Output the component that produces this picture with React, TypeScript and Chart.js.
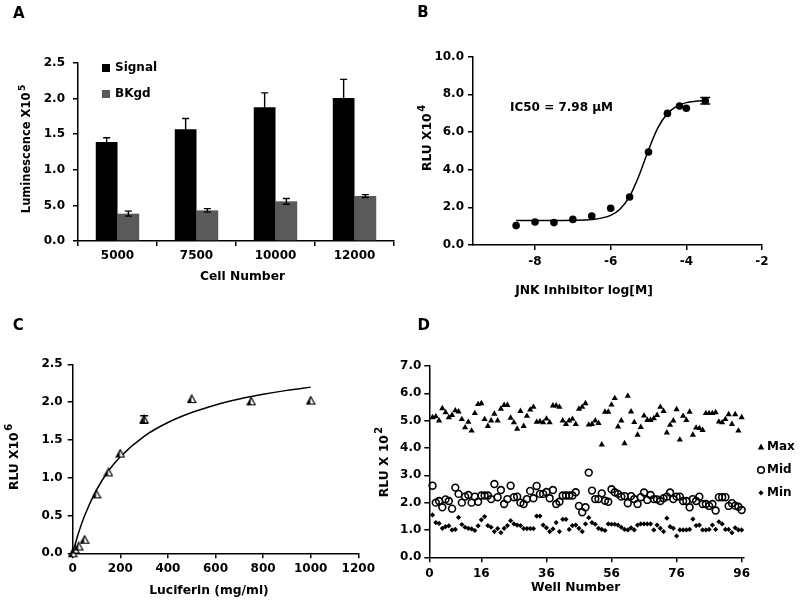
import React, { useEffect, useRef } from 'react';
import { Chart, registerables } from 'chart.js';
Chart.register(...registerables);

const FONT = 'DejaVu Sans';

// ---------- Panel A ----------
const A_CATEGORIES = ['5000', '7500', '10000', '12000'];
const A_SIGNAL = [1.39, 1.57, 1.88, 2.01];
const A_SIGNAL_ERR = [0.06, 0.15, 0.2, 0.26];
const A_BKGD = [0.384, 0.43, 0.557, 0.632];
const A_BKGD_ERR = [0.035, 0.025, 0.04, 0.02];
const A_Y_TICK_LABELS = ['0.0', '5.0', '1.0', '1.5', '2.0', '2.5'];

// ---------- Panel B ----------
const B_X = [-8.5, -8, -7.5, -7, -6.5, -6, -5.5, -5, -4.5, -4.18, -4, -3.5];
const B_Y = [1.03, 1.22, 1.19, 1.36, 1.54, 1.95, 2.55, 4.94, 6.99, 7.38, 7.26, 7.66];
const B_ERR = [0, 0, 0, 0, 0, 0, 0, 0, 0, 0, 0, 0.17];
const B_FIT_X = [-8.5, -8, -7.5, -7, -6.5, -6, -5.75, -5.5, -5.25, -5, -4.75, -4.5, -4.25, -4, -3.75, -3.5];
const B_FIT_Y = [1.3, 1.3, 1.3, 1.31, 1.35, 1.57, 1.91, 2.58, 3.69, 5.05, 6.23, 6.98, 7.38, 7.56, 7.63, 7.67];
const B_X_TICKS = [-8, -6, -4, -2];

// ---------- Panel C ----------
const C_X = [0, 10, 25, 50, 100, 150, 200, 300, 500, 750, 1000];
const C_Y = [0.0, 0.05, 0.09, 0.18, 0.78, 1.07, 1.32, 1.77, 2.04, 2.01, 2.02];
const C_ERR = [0, 0, 0, 0, 0, 0, 0, 0.05, 0, 0, 0];
const C_FIT_X = [0, 25, 50, 100, 150, 200, 300, 400, 500, 600, 700, 800, 900, 1000];
const C_FIT_Y = [0, 0.275, 0.497, 0.838, 1.088, 1.277, 1.548, 1.73, 1.862, 1.962, 2.04, 2.103, 2.155, 2.198];

// ---------- Panel D ----------
const D_MAX = [
  5.12, 5.15, 5.0, 5.45, 5.3, 5.12, 5.2, 5.37, 5.33, 5.05,
  4.75, 4.95, 4.63, 5.27, 5.6, 5.63, 5.05, 4.8, 5.0, 5.25,
  5.0, 5.43, 5.57, 5.57, 5.1, 4.93, 4.7, 5.35, 4.8, 5.17,
  5.4, 5.5, 4.95, 4.97, 4.93, 5.07, 4.93, 5.55, 5.55, 5.5,
  5.0, 4.87, 5.0, 5.06, 4.87, 5.43, 5.5, 5.63, 4.85, 4.87,
  5.0, 4.91, 4.12, 5.32, 5.32, 5.58, 5.82, 4.78, 5.0, 4.17,
  5.9, 5.33, 4.94, 4.48, 4.76, 5.18, 5.02, 5.02, 5.08, 5.2,
  5.5, 5.35, 4.56, 4.84, 5.0, 5.41, 4.3, 5.17, 5.02, 5.32,
  4.48, 4.74, 4.72, 4.65, 5.27, 5.27, 5.27, 5.3, 4.96, 4.93,
  5.05, 5.23, 4.87, 5.23, 4.63, 5.12,
];
const D_MID = [
  2.62, 2.0, 2.06, 1.83, 2.12, 2.06, 1.78, 2.55, 2.32, 2.0,
  2.22, 2.28, 2.0, 2.22, 2.03, 2.26, 2.26, 2.26, 2.13, 2.68,
  2.2, 2.46, 1.95, 2.13, 2.62, 2.2, 2.22, 2.0, 1.95, 2.13,
  2.43, 2.16, 2.61, 2.32, 2.32, 2.39, 2.16, 2.46, 1.95, 2.03,
  2.26, 2.26, 2.26, 2.26, 2.38, 1.88, 1.65, 1.83, 3.1, 2.44,
  2.13, 2.13, 2.34, 2.07, 2.03, 2.49, 2.38, 2.32, 2.22, 2.24,
  1.98, 2.24, 2.13, 1.95, 2.2, 2.37, 2.1, 2.28, 2.13, 2.12,
  2.06, 2.16, 2.22, 2.37, 2.13, 2.22, 2.22, 2.06, 2.06, 1.83,
  2.13, 2.06, 2.22, 1.95, 1.95, 1.88, 1.95, 1.71, 2.2, 2.2,
  2.2, 1.88, 1.98, 1.89, 1.85, 1.73,
];
const D_MIN = [
  1.55, 1.27, 1.24, 1.06, 1.12, 1.15, 1.0, 1.02, 1.46, 1.2,
  1.1, 1.06, 1.04, 0.98, 1.15, 1.37, 1.49, 1.16, 1.1, 0.94,
  1.05, 0.9, 1.06, 1.16, 1.34, 1.22, 1.18, 1.16, 1.05, 1.05,
  1.05, 1.05, 1.51, 1.51, 1.18, 1.08, 0.94, 1.04, 1.27, 0.94,
  1.39, 1.39, 1.02, 1.16, 1.18, 1.06, 0.94, 1.22, 1.45, 1.27,
  1.21, 1.06, 1.02, 0.98, 1.22, 1.21, 1.21, 1.18, 1.1, 1.02,
  1.0, 1.08, 1.0, 1.18, 1.22, 1.22, 1.22, 1.22, 1.0, 1.18,
  1.06, 0.94, 1.43, 1.12, 1.06, 0.78, 1.0, 1.0, 1.0, 1.02,
  1.4, 1.16, 1.18, 1.0, 1.0, 1.02, 1.18, 1.02, 1.3, 1.22,
  1.02, 1.02, 0.9, 1.08, 1.0, 1.0,
];
const D_WELLS = D_MAX.map((_, i) => i + 1);
const D_X_TICKS = [0, 16, 36, 56, 76, 96];
const D_LEGEND = ['Max', 'Mid', 'Min'];

// ---------- layout helpers ----------
const W = 800;
const H = 602;
const YW = 40;
const XH = 30;

type Area = { l: number; r: number; t: number; b: number };
type TextItem = {
  t: string;
  sup?: string;
  x: number;
  y: number;
  size: number;
  rot?: boolean;
  align?: 'left' | 'center';
};

function layoutFor(a: Area) {
  return {
    padding: { left: a.l - YW, right: W - a.r, top: a.t, bottom: H - a.b - XH },
  };
}

function tickFont() {
  return { family: FONT, size: 12, weight: 'bold' as const };
}

function baseAxis(pad: number) {
  return {
    border: { display: true, color: '#000', width: 1.5 },
    grid: {
      display: true,
      drawOnChartArea: false,
      drawTicks: true,
      tickLength: 5,
      color: '#000',
      lineWidth: 1.5,
    },
    ticks: {
      color: '#000',
      font: tickFont(),
      padding: pad,
      autoSkip: false,
      maxRotation: 0,
      minRotation: 0,
    },
  };
}

function drawText(ctx: CanvasRenderingContext2D, it: TextItem) {
  ctx.save();
  ctx.translate(it.x, it.y);
  if (it.rot) ctx.rotate(-Math.PI / 2);
  const font = `bold ${it.size}px "${FONT}"`;
  const supSize = Math.round(it.size * 0.78);
  const supFont = `bold ${supSize}px "${FONT}"`;
  ctx.font = font;
  const w1 = ctx.measureText(it.t).width;
  let w2 = 0;
  if (it.sup) {
    ctx.font = supFont;
    w2 = ctx.measureText(it.sup).width + 1.5;
  }
  const total = w1 + w2;
  const sx = it.align === 'left' ? 0 : -total / 2;
  ctx.fillStyle = '#000';
  ctx.textBaseline = 'middle';
  ctx.textAlign = 'left';
  ctx.font = font;
  ctx.fillText(it.t, sx, 0);
  if (it.sup) {
    ctx.font = supFont;
    ctx.fillText(it.sup, sx + w1 + 1.5, -it.size * 0.42);
  }
  ctx.restore();
}

function textPlugin(items: TextItem[], extra?: (chart: any) => void) {
  return {
    id: 'texts',
    afterDraw(chart: any) {
      const ctx = chart.ctx as CanvasRenderingContext2D;
      items.forEach((it) => drawText(ctx, it));
      if (extra) extra(chart);
    },
  };
}

function drawErrBar(ctx: CanvasRenderingContext2D, x: number, yTop: number, yBot: number, half: number) {
  ctx.save();
  ctx.strokeStyle = '#000';
  ctx.lineWidth = 1.4;
  ctx.beginPath();
  ctx.moveTo(x, yTop);
  ctx.lineTo(x, yBot);
  ctx.moveTo(x - half, yTop);
  ctx.lineTo(x + half, yTop);
  ctx.moveTo(x - half, yBot);
  ctx.lineTo(x + half, yBot);
  ctx.stroke();
  ctx.restore();
}

function xyErrPlugin(xs: number[], ys: number[], errs: number[], half: number) {
  return {
    id: 'xyerr',
    afterDatasetsDraw(chart: any) {
      const ctx = chart.ctx;
      const sx = chart.scales.x;
      const sy = chart.scales.y;
      xs.forEach((xv, i) => {
        if (!errs[i]) return;
        drawErrBar(ctx, sx.getPixelForValue(xv), sy.getPixelForValue(ys[i] + errs[i]), sy.getPixelForValue(ys[i] - errs[i]), half);
      });
    },
  };
}

function makeHalfTriangle(): HTMLCanvasElement {
  const s = 10;
  const c = document.createElement('canvas');
  c.width = s;
  c.height = s;
  const g = c.getContext('2d')!;
  g.beginPath();
  g.moveTo(s / 2, 1);
  g.lineTo(s - 1, s - 1.5);
  g.lineTo(1, s - 1.5);
  g.closePath();
  g.fillStyle = '#fff';
  g.fill();
  g.save();
  g.clip();
  g.fillStyle = '#000';
  g.fillRect(0, 0, s * 0.45, s);
  g.restore();
  g.lineWidth = 1.2;
  g.strokeStyle = '#000';
  g.stroke();
  return c;
}

// ---------- chart configs ----------
function configA(): any {
  const area: Area = { l: 78, r: 394, t: 63, b: 241 };
  const texts: TextItem[] = [
    { t: 'A', x: 18.8, y: 13.7, size: 15 },
    { t: 'Luminescence X10', sup: '5', x: 27, y: 149, size: 11.5, rot: true },
    { t: 'Cell Number', x: 242.5, y: 277, size: 12.3 },
    { t: 'Signal', x: 115, y: 68, size: 12, align: 'left' },
    { t: 'BKgd', x: 115, y: 94, size: 12, align: 'left' },
  ];
  const errPlugin = {
    id: 'barerr',
    afterDatasetsDraw(chart: any) {
      const ctx = chart.ctx;
      const sy = chart.scales.y;
      [A_SIGNAL_ERR, A_BKGD_ERR].forEach((errs, di) => {
        const meta = chart.getDatasetMeta(di);
        const vals = chart.data.datasets[di].data as number[];
        meta.data.forEach((el: any, j: number) => {
          drawErrBar(ctx, el.x, sy.getPixelForValue(vals[j] + errs[j]), sy.getPixelForValue(vals[j] - errs[j]), 3.5);
        });
      });
    },
  };
  const legendSquares = (chart: any) => {
    const ctx = chart.ctx;
    ctx.save();
    ctx.fillStyle = '#000';
    ctx.fillRect(102, 64, 8, 8);
    ctx.fillStyle = '#5a5a5a';
    ctx.fillRect(102, 90, 8, 8);
    ctx.restore();
  };
  return {
    type: 'bar',
    data: {
      labels: A_CATEGORIES,
      datasets: [
        { label: 'Signal', data: A_SIGNAL, backgroundColor: '#000', categoryPercentage: 0.55, barPercentage: 1 },
        { label: 'BKgd', data: A_BKGD, backgroundColor: '#5a5a5a', categoryPercentage: 0.55, barPercentage: 1 },
      ],
    },
    options: {
      responsive: false,
      animation: false,
      events: [],
      layout: layoutFor(area),
      plugins: { legend: { display: false }, tooltip: { enabled: false } },
      scales: {
        x: {
          ...baseAxis(2.5),
          afterFit: (s: any) => { s.height = XH; },
        },
        y: {
          ...baseAxis(8),
          min: 0,
          max: 2.5,
          ticks: {
            ...baseAxis(8).ticks,
            stepSize: 0.5,
            callback: (_v: any, i: number) => A_Y_TICK_LABELS[i],
          },
          afterFit: (s: any) => { s.width = YW; },
        },
      },
    },
    plugins: [errPlugin, textPlugin(texts, legendSquares)],
  };
}

function configB(): any {
  const area: Area = { l: 473, r: 762, t: 56.7, b: 245 };
  const texts: TextItem[] = [
    { t: 'B', x: 423, y: 12.8, size: 15 },
    { t: 'RLU X10', sup: '4', x: 428, y: 138, size: 12.3, rot: true },
    { t: 'JNK Inhibitor log[M]', x: 584, y: 291, size: 12.3 },
    { t: 'IC50 = 7.98 µM', x: 510, y: 108, size: 12, align: 'left' },
  ];
  return {
    type: 'scatter',
    data: {
      datasets: [
        {
          label: 'data',
          data: B_X.map((x, i) => ({ x, y: B_Y[i] })),
          pointStyle: 'circle',
          pointRadius: 3.8,
          backgroundColor: '#000',
          borderColor: '#000',
          borderWidth: 0,
          clip: false,
        },
        {
          label: 'fit',
          data: B_FIT_X.map((x, i) => ({ x, y: B_FIT_Y[i] })),
          showLine: true,
          pointRadius: 0,
          borderColor: '#000',
          borderWidth: 1.5,
          cubicInterpolationMode: 'monotone',
          clip: false,
        },
      ],
    },
    options: {
      responsive: false,
      animation: false,
      events: [],
      layout: layoutFor(area),
      plugins: { legend: { display: false }, tooltip: { enabled: false } },
      scales: {
        x: {
          ...baseAxis(5),
          type: 'linear',
          min: -9.64,
          max: -2,
          afterBuildTicks: (s: any) => { s.ticks = B_X_TICKS.map((v) => ({ value: v })); },
          afterFit: (s: any) => { s.height = XH; },
        },
        y: {
          ...baseAxis(4),
          min: 0,
          max: 10,
          ticks: { ...baseAxis(4).ticks, stepSize: 2, callback: (v: any) => Number(v).toFixed(1) },
          afterFit: (s: any) => { s.width = YW; },
        },
      },
    },
    plugins: [xyErrPlugin(B_X, B_Y, B_ERR, 5), textPlugin(texts)],
  };
}

function configC(): any {
  const area: Area = { l: 72.7, r: 358.3, t: 364.3, b: 553.3 };
  const texts: TextItem[] = [
    { t: 'C', x: 18.3, y: 326, size: 15 },
    { t: 'RLU X10', sup: '6', x: 15, y: 457, size: 12.3, rot: true },
    { t: 'Luciferin (mg/ml)', x: 209, y: 590.5, size: 12.3 },
  ];
  const tri = makeHalfTriangle();
  return {
    type: 'scatter',
    data: {
      datasets: [
        {
          label: 'data',
          data: C_X.map((x, i) => ({ x, y: C_Y[i] })),
          pointStyle: tri,
          pointRadius: 5,
          clip: false,
        },
        {
          label: 'fit',
          data: C_FIT_X.map((x, i) => ({ x, y: C_FIT_Y[i] })),
          showLine: true,
          pointRadius: 0,
          borderColor: '#000',
          borderWidth: 1.5,
          cubicInterpolationMode: 'monotone',
          clip: false,
        },
      ],
    },
    options: {
      responsive: false,
      animation: false,
      events: [],
      layout: layoutFor(area),
      plugins: { legend: { display: false }, tooltip: { enabled: false } },
      scales: {
        x: {
          ...baseAxis(3),
          type: 'linear',
          min: 0,
          max: 1200,
          ticks: { ...baseAxis(3).ticks, stepSize: 200, callback: (v: any) => String(v) },
          afterFit: (s: any) => { s.height = XH; },
        },
        y: {
          ...baseAxis(5),
          min: 0,
          max: 2.5,
          ticks: { ...baseAxis(5).ticks, stepSize: 0.5, callback: (v: any) => Number(v).toFixed(1) },
          afterFit: (s: any) => { s.width = YW; },
        },
      },
    },
    plugins: [xyErrPlugin(C_X, C_Y, C_ERR, 4), textPlugin(texts)],
  };
}

function configD(): any {
  const area: Area = { l: 429.3, r: 743.3, t: 366, b: 557.3 };
  const texts: TextItem[] = [
    { t: 'D', x: 423.7, y: 326.5, size: 15 },
    { t: 'RLU X 10', sup: '2', x: 385, y: 462, size: 12.3, rot: true },
    { t: 'Well Number', x: 575.7, y: 588.3, size: 12.3 },
    { t: D_LEGEND[0], x: 767, y: 447, size: 12, align: 'left' },
    { t: D_LEGEND[1], x: 767, y: 470, size: 12, align: 'left' },
    { t: D_LEGEND[2], x: 767, y: 493, size: 12, align: 'left' },
  ];
  const legendMarks = (chart: any) => {
    const ctx = chart.ctx as CanvasRenderingContext2D;
    ctx.save();
    ctx.fillStyle = '#000';
    ctx.strokeStyle = '#000';
    ctx.beginPath();
    ctx.moveTo(761, 443.5);
    ctx.lineTo(764.2, 449.5);
    ctx.lineTo(757.8, 449.5);
    ctx.closePath();
    ctx.fill();
    ctx.lineWidth = 1.6;
    ctx.beginPath();
    ctx.arc(761, 470, 3.3, 0, Math.PI * 2);
    ctx.stroke();
    ctx.beginPath();
    ctx.moveTo(761, 490.2);
    ctx.lineTo(763.6, 492.8);
    ctx.lineTo(761, 495.4);
    ctx.lineTo(758.4, 492.8);
    ctx.closePath();
    ctx.fill();
    ctx.restore();
  };
  return {
    type: 'scatter',
    data: {
      datasets: [
        {
          label: D_LEGEND[0],
          data: D_WELLS.map((x, i) => ({ x, y: D_MAX[i] })),
          pointStyle: 'triangle',
          pointRadius: 3.6,
          backgroundColor: '#000',
          borderColor: '#000',
          borderWidth: 0,
          clip: false,
        },
        {
          label: D_LEGEND[1],
          data: D_WELLS.map((x, i) => ({ x, y: D_MID[i] })),
          pointStyle: 'circle',
          pointRadius: 3.4,
          backgroundColor: 'rgba(0,0,0,0)',
          borderColor: '#000',
          borderWidth: 1.6,
          clip: false,
        },
        {
          label: D_LEGEND[2],
          data: D_WELLS.map((x, i) => ({ x, y: D_MIN[i] })),
          pointStyle: 'rectRot',
          pointRadius: 2.6,
          backgroundColor: '#000',
          borderColor: '#000',
          borderWidth: 0,
          clip: false,
        },
      ],
    },
    options: {
      responsive: false,
      animation: false,
      events: [],
      layout: layoutFor(area),
      plugins: { legend: { display: false }, tooltip: { enabled: false } },
      scales: {
        x: {
          ...baseAxis(4),
          type: 'linear',
          min: 0,
          max: 96.5,
          afterBuildTicks: (s: any) => { s.ticks = D_X_TICKS.map((v) => ({ value: v })); },
          afterFit: (s: any) => { s.height = XH; },
        },
        y: {
          ...baseAxis(3),
          min: 0,
          max: 7,
          ticks: { ...baseAxis(3).ticks, stepSize: 1, callback: (v: any) => Number(v).toFixed(1) },
          afterFit: (s: any) => { s.width = YW; },
        },
      },
    },
    plugins: [textPlugin(texts, legendMarks)],
  };
}

function Panel({ make }: { make: () => any }) {
  const ref = useRef<HTMLCanvasElement | null>(null);
  useEffect(() => {
    if (!ref.current) return;
    const chart = new Chart(ref.current, make());
    return () => chart.destroy();
  }, [make]);
  return (
    <canvas
      ref={ref}
      width={W}
      height={H}
      style={{ position: 'absolute', left: 0, top: 0, width: W, height: H }}
    />
  );
}

export default function App() {
  return (
    <div style={{ position: 'absolute', left: 0, top: 0, width: W, height: H, background: '#fff', overflow: 'hidden' }}>
      <Panel make={configA} />
      <Panel make={configB} />
      <Panel make={configC} />
      <Panel make={configD} />
    </div>
  );
}
